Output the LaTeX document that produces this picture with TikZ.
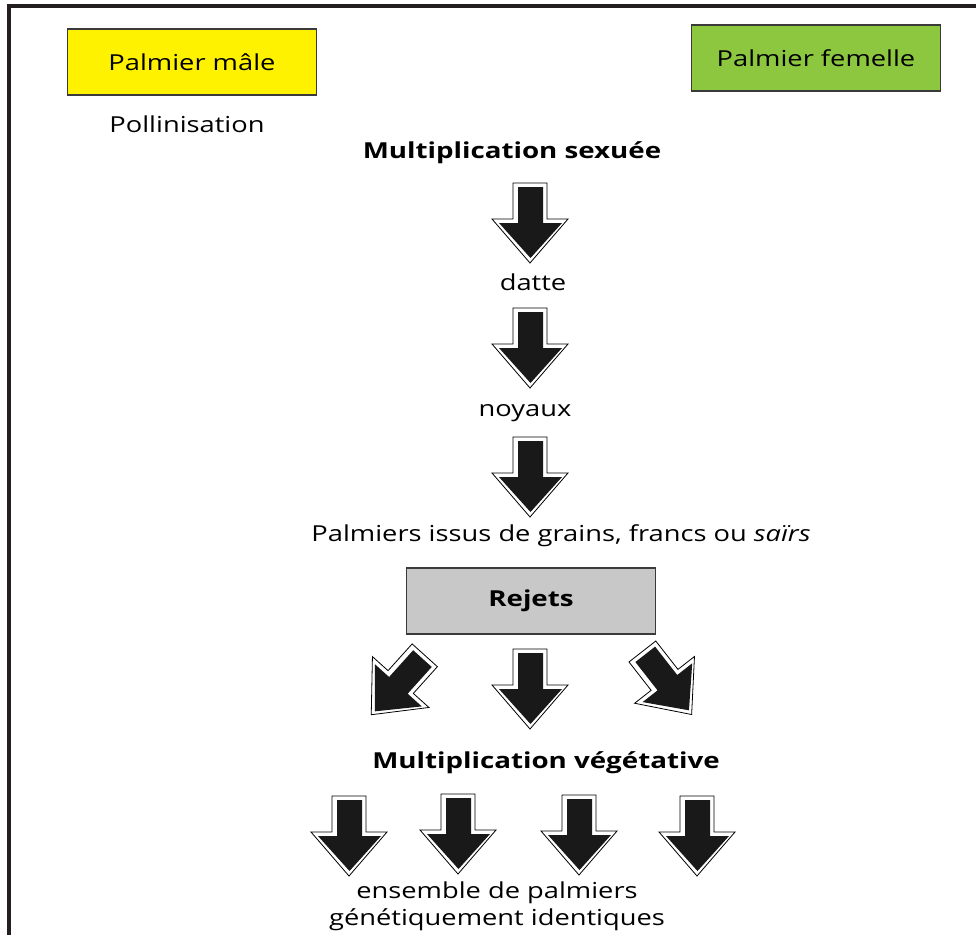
\documentclass[tikz,border=0pt]{standalone}
\usepackage{fontspec}
\setmainfont{Open Sans}[FakeStretch=1.24, BoldFeatures={FakeStretch=1.26}]
\definecolor{frame}{HTML}{231F20}
\definecolor{myyellow}{HTML}{FFF200}
\definecolor{mygreen}{HTML}{8DC63F}
\definecolor{mygray}{HTML}{C8C8C8}
\definecolor{boxline}{HTML}{3A3A3A}
\tikzset{
  x=1pt, y=-1pt,
  colbox/.style={draw=boxline, line width=1.5pt, minimum width=249pt, minimum height=66pt, inner sep=0pt, font=\fontsize{22}{26}\selectfont},
  lbl/.style={inner sep=0pt, font=\fontsize{22}{26}\selectfont},
  blbl/.style={lbl, font=\fontsize{22}{26}\selectfont\bfseries},
  barrow/.pic={
    \draw[line width=0.8pt, fill=white] (-17,-40) -- (17,-40) -- (17,-4) -- (38,-4) -- (0,40) -- (-38,-4) -- (-17,-4) -- cycle;
    \fill[black!90] (-12,-36) -- (13,-36) -- (13,0) -- (32,0) -- (0.5,35) -- (-31,0) -- (-12,0) -- cycle;
  }
}
\begin{document}
\begin{tikzpicture}
\useasboundingbox (0,0) rectangle (976,935);
% frame
\draw[frame, line width=3.5pt] (9,935) -- (9,6) -- (976,6);
% boxes
\node[colbox, fill=myyellow] (pmale) at (192,62) {Palmier mâle};
\node[colbox, fill=mygreen] (pfem) at (816,58) {Palmier femelle};
\node[lbl] (pollin) at (187,124) {Pollinisation};
\node[blbl] (msex) at (512,153) {Multiplication sexuée};
\pic at (530,223) {barrow};
\node[lbl] (datte) at (533,282) {datte};
\pic at (530,348) {barrow};
\node[lbl] (noyaux) at (525,413) {noyaux};
\pic at (530,477) {barrow};
\node[lbl] (palm) at (561,536) {Palmiers issus de grains, francs ou \textit{saïrs}};
\node[colbox, fill=mygray] (rejets) at (531,601) {\bfseries Rejets};
\pic[rotate=-42] at (398,685) {barrow};
\pic at (530,689) {barrow};
\pic[rotate=38] at (667,683) {barrow};
\node[blbl] (mveg) at (546,763) {Multiplication végétative};
\pic at (349,836) {barrow};
\pic at (458,834) {barrow};
\pic at (579,835) {barrow};
\pic at (697,836) {barrow};
\node[lbl, align=center, font=\fontsize{22}{27}\selectfont] (ens) at (497,906) {ensemble de palmiers\\génétiquement identiques};
\end{tikzpicture}
\end{document}
